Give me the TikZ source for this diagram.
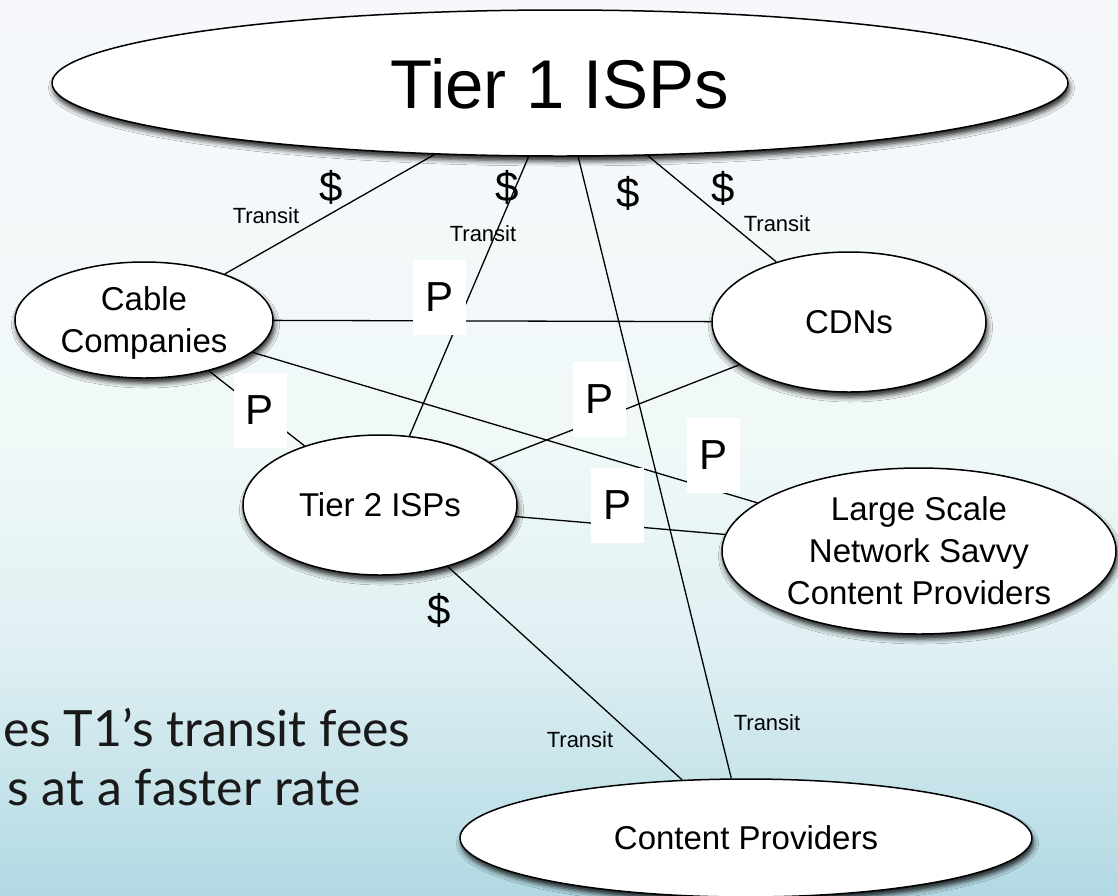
\documentclass[tikz,border=0pt]{standalone}
\usepackage{fontspec}
\setmainfont{Liberation Sans}
\newfontfamily\notefont{Lato}
\usetikzlibrary{shapes.geometric,shadows.blur}

\definecolor{bgtop}{RGB}{246,248,251}
\definecolor{bgmid}{RGB}{240,248,248}
\definecolor{bglow}{RGB}{224,240,243}
\definecolor{bgbot}{RGB}{178,217,227}
\definecolor{notetext}{RGB}{25,25,25}
\pgfdeclareverticalshading{slidebg}{100bp}{color(0bp)=(bgbot); color(25bp)=(bgbot); color(39bp)=(bglow); color(50bp)=(bgmid); color(75bp)=(bgtop); color(100bp)=(bgtop)}

\tikzset{
	isp/.style={ellipse, draw=black, line width=1.5pt, fill=white, inner sep=0pt, align=center, text depth=0pt,
		font=\fontsize{33}{42}\selectfont,
		blur shadow={shadow xshift=1.5pt, shadow yshift=-5pt, shadow blur radius=5pt, shadow opacity=85}},
	link/.style={line width=1.3pt, color=black},
	fee/.style={font=\fontsize{42}{42}\selectfont, inner sep=0pt},
	transit/.style={font=\fontsize{22}{22}\selectfont, inner sep=0pt},
	peer/.style={fill=white, font=\fontsize{42}{42}\selectfont, minimum width=53pt, minimum height=75pt, inner sep=0pt}
}

\begin{document}
\begin{tikzpicture}[x=1pt, y=-1pt]
		%%%%% START %%%%%
		\useasboundingbox (0, 0) rectangle (1118, 895);
		\clip (0, 0) rectangle (1118, 895);
		\shade[shading=slidebg] (0, 0) rectangle (1118, 895);
		
		% note text, cut at the left edge
		\node[anchor=base east, font=\notefont\fontsize{50}{59}\selectfont, text=notetext] (note1) at (414, 746) {es T1’s transit fees};
		\node[anchor=base east, font=\notefont\fontsize{50}{59}\selectfont, text=notetext] (note2) at (364, 805) {s at a faster rate};
		
		\node[isp, minimum width=1016, minimum height=146, font=\fontsize{69}{80}\selectfont] (t1) at (560, 83) {Tier 1 ISPs};
		\node[isp, minimum width=258, minimum height=116] (cable) at (144, 320) {Cable\\Companies};
		\node[isp, minimum width=274, minimum height=140] (cdn) at (849, 322) {CDNs};
		\node[isp, minimum width=274, minimum height=140] (t2) at (380, 505) {Tier 2 ISPs};
		\node[isp, minimum width=394, minimum height=166] (large) at (919, 551) {Large Scale\\Network Savvy\\Content Providers};
		\node[isp, minimum width=572, minimum height=118] (cp) at (746, 838) {Content Providers};
		
		% transit links
		\draw[link] (t1) -- (cable);
		\draw[link] (t1) -- (t2);
		\draw[link] (t1) -- (cp);
		\draw[link] (t1) -- (cdn);
		\draw[link] (t2) -- (cp);
		
		% peering links
		\draw[link] (cable) -- (cdn);
		\draw[link] (cable) -- (t2);
		\draw[link] (t2) -- (cdn);
		\draw[link] (cable) -- (large);
		\draw[link] (t2) -- (large);
		
		\node[fee] (fee1) at (331, 187) {\$};
		\node[transit] (tr1) at (266, 216) {Transit};
		\node[fee] (fee2) at (507, 187) {\$};
		\node[transit] (tr2) at (483, 234) {Transit};
		\node[fee] (fee3) at (628, 193) {\$};
		\node[transit] (tr3) at (767, 723) {Transit};
		\node[fee] (fee4) at (723, 188) {\$};
		\node[transit] (tr4) at (777, 224) {Transit};
		\node[fee] (fee5) at (439, 610) {\$};
		\node[transit] (tr5) at (580, 740) {Transit};
		
		\node[peer] (p1) at (439.5, 297.5) {P};
		\node[peer] (p2) at (599.5, 399.5) {P};
		\node[peer] (p3) at (713.5, 455) {P};
		\node[peer] (p4) at (617.5, 505) {P};
		\node[peer] (p5) at (260, 410.5) {P};
		
		%%%%% END %%%%%
	\end{tikzpicture}
\end{document}
